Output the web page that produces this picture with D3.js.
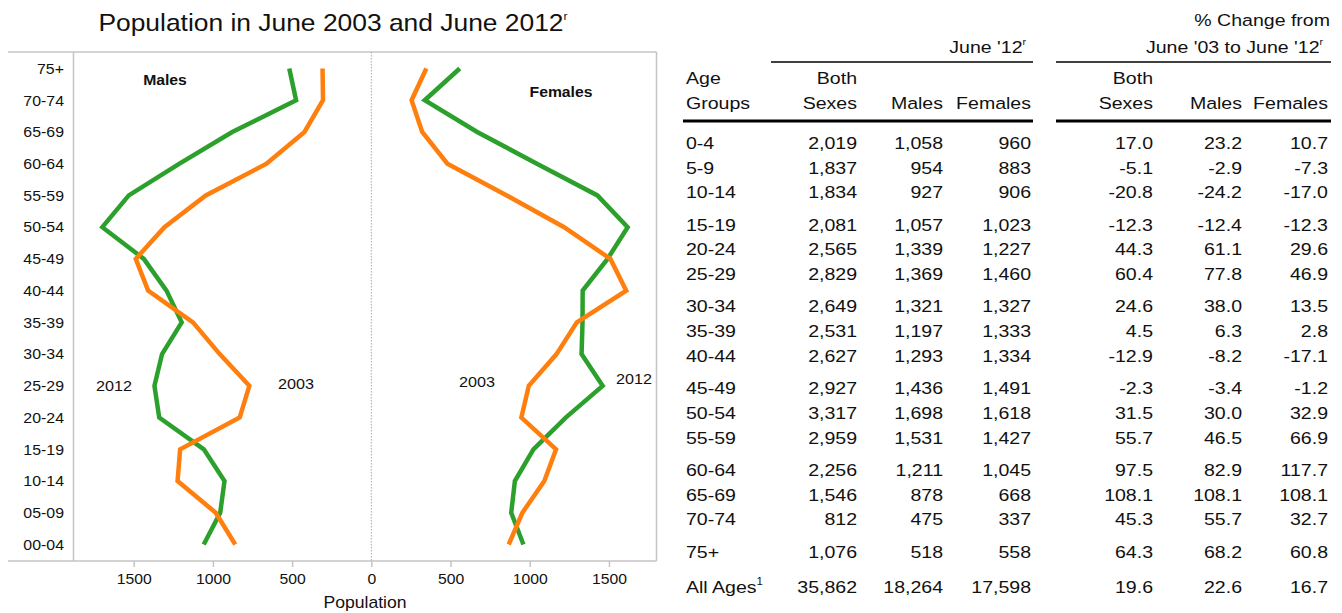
<!DOCTYPE html>
<html>
<head>
<meta charset="utf-8">
<script src="https://cdn.jsdelivr.net/npm/d3@7"></script>
<style>
  body { margin: 0; background: #fff; }
  svg { display: block; font-family: "Liberation Sans", Arial, sans-serif; }
</style>
</head>
<body>
<svg width="1342" height="613"></svg>
<script>
// data
const ageGroups = ["00-04", "05-09", "10-14", "15-19", "20-24", "25-29", "30-34", "35-39",
  "40-44", "45-49", "50-54", "55-59", "60-64", "65-69", "70-74", "75+"];
const males2012 = [1058, 954, 927, 1057, 1339, 1369, 1321, 1197, 1293, 1436, 1698, 1531, 1211, 878, 475, 518];
const males2003 = [859, 982, 1223, 1207, 831, 770, 957, 1126, 1409, 1487, 1306, 1045, 662, 422, 305, 308];
const females2012 = [960, 883, 906, 1023, 1227, 1460, 1327, 1333, 1334, 1491, 1618, 1427, 1045, 668, 337, 558];
const females2003 = [867, 953, 1092, 1166, 947, 994, 1169, 1297, 1609, 1509, 1217, 855, 480, 321, 254, 347];
const xTicks = [-1500, -1000, -500, 0, 500, 1000, 1500];

// table data
const tableAges = ["0-4", "5-9", "10-14", "15-19", "20-24", "25-29", "30-34", "35-39", "40-44",
  "45-49", "50-54", "55-59", "60-64", "65-69", "70-74", "75+", "All Ages"];
const bothSexes = [2019, 1837, 1834, 2081, 2565, 2829, 2649, 2531, 2627, 2927, 3317, 2959, 2256, 1546, 812, 1076, 35862];
const tableMales = [1058, 954, 927, 1057, 1339, 1369, 1321, 1197, 1293, 1436, 1698, 1531, 1211, 878, 475, 518, 18264];
const tableFemales = [960, 883, 906, 1023, 1227, 1460, 1327, 1333, 1334, 1491, 1618, 1427, 1045, 668, 337, 558, 17598];
const pctBoth = [17.0, -5.1, -20.8, -12.3, 44.3, 60.4, 24.6, 4.5, -12.9, -2.3, 31.5, 55.7, 97.5, 108.1, 45.3, 64.3, 19.6];
const pctMales = [23.2, -2.9, -24.2, -12.4, 61.1, 77.8, 38.0, 6.3, -8.2, -3.4, 30.0, 46.5, 82.9, 108.1, 55.7, 68.2, 22.6];
const pctFemales = [10.7, -7.3, -17.0, -12.3, 29.6, 46.9, 13.5, 2.8, -17.1, -1.2, 32.9, 66.9, 117.7, 108.1, 32.7, 60.8, 16.7];

const svg = d3.select("svg");
const green = "#2ca02c", orange = "#ff7f0e", frame = "#c4c4c4";

// text helper (source font is a bit wider than Arial)
function txt(x, y, s, opts) {
  opts = opts || {};
  return svg.append("text")
    .attr("transform", `translate(${x},${y}) scale(${opts.sx || 1.06},1)`)
    .attr("text-anchor", opts.anchor || "start")
    .attr("font-size", opts.size || 15)
    .attr("font-weight", opts.weight || "normal")
    .attr("fill", "#111")
    .text(s);
}

// title
const title = txt(333, 31, "Population in June 2003 and June 2012", {anchor: "middle", size: 24, sx: 1.1});
title.append("tspan").attr("font-size", 11).attr("dy", -11).text("r");

// scales
const x = d3.scaleLinear().domain([-1880, 1800]).range([73.5, 656.5]);
const y = d3.scalePoint().domain(ageGroups).range([561, 52]).padding(0.52);

// frame
svg.append("line").attr("x1", 8).attr("x2", 656.5).attr("y1", 52).attr("y2", 52)
  .attr("stroke", frame).attr("stroke-width", 1.5);
svg.append("line").attr("x1", 656.5).attr("x2", 656.5).attr("y1", 52).attr("y2", 561)
  .attr("stroke", frame).attr("stroke-width", 1.5);
svg.append("line").attr("x1", 73.5).attr("x2", 73.5).attr("y1", 52).attr("y2", 561)
  .attr("stroke", frame).attr("stroke-width", 1.5);
svg.append("line").attr("x1", 8).attr("x2", 656.5).attr("y1", 561).attr("y2", 561)
  .attr("stroke", frame).attr("stroke-width", 1.5);

// zero line
svg.append("line").attr("x1", x(0)).attr("x2", x(0)).attr("y1", 52).attr("y2", 561)
  .attr("stroke", "#aaa").attr("stroke-dasharray", "1.5,1.5");

// x axis
const xAxis = svg.append("g")
  .attr("transform", "translate(0,561)")
  .call(d3.axisBottom(x).tickValues(xTicks).tickFormat(d => Math.abs(d)).tickSize(6));
xAxis.select(".domain").remove();
xAxis.selectAll(".tick line").attr("stroke", frame).attr("stroke-width", 1.5);
xAxis.selectAll(".tick text")
  .attr("y", 12).attr("font-size", 15).attr("font-family", "Liberation Sans, Arial, sans-serif")
  .attr("fill", "#111").attr("transform", "scale(1.05,1)");

txt(365, 608, "Population", {anchor: "middle", size: 16, sx: 1.1});

// y axis labels
const yAxis = svg.append("g")
  .attr("transform", "translate(73.5,0)")
  .call(d3.axisLeft(y).tickSize(0).tickPadding(9));
yAxis.select(".domain").remove();
yAxis.selectAll(".tick text")
  .attr("font-size", 15).attr("font-family", "Liberation Sans, Arial, sans-serif")
  .attr("fill", "#111").attr("transform", "scale(1.06,1)");

// lines
const maleLine = d3.line().x(d => x(-d[1])).y(d => y(d[0]));
const femaleLine = d3.line().x(d => x(d[1])).y(d => y(d[0]));

function drawLine(gen, values, color) {
  svg.append("path")
    .datum(ageGroups.map((a, i) => [a, values[i]]))
    .attr("d", gen)
    .attr("fill", "none")
    .attr("stroke", color)
    .attr("stroke-width", 4.5);
}
drawLine(maleLine, males2012, green);
drawLine(femaleLine, females2012, green);
drawLine(maleLine, males2003, orange);
drawLine(femaleLine, females2003, orange);

// annotations
txt(165, 85, "Males", {anchor: "middle", weight: "bold", sx: 1.05});
txt(561, 97, "Females", {anchor: "middle", weight: "bold", sx: 1.05});
txt(114, 391, "2012", {anchor: "middle", sx: 1.08});
txt(296, 389, "2003", {anchor: "middle", sx: 1.08});
txt(477, 387, "2003", {anchor: "middle", sx: 1.08});
txt(634, 384, "2012", {anchor: "middle", sx: 1.08});

// table
const loc = d3.formatLocale({decimal: ".", thousands: ",", grouping: [3], currency: ["$", ""], minus: "-"});
const fmtN = loc.format(","), fmtP = loc.format(".1f");
const colX = [857, 943, 1031, 1153, 1242, 1328];
const tsx = 1.15, tfs = 17;

// table headers
txt(1330, 26, "% Change from", {anchor: "end", size: tfs, sx: tsx});
txt(1026, 53, "June '12", {anchor: "end", size: tfs, sx: tsx})
  .append("tspan").attr("font-size", 9).attr("dy", -8).text("r");
txt(1323, 53, "June '03 to June '12", {anchor: "end", size: tfs, sx: tsx})
  .append("tspan").attr("font-size", 9).attr("dy", -8).text("r");
svg.append("line").attr("x1", 771).attr("x2", 1033).attr("y1", 62).attr("y2", 62)
  .attr("stroke", "#000").attr("stroke-width", 1.5);
svg.append("line").attr("x1", 1056).attr("x2", 1331).attr("y1", 62).attr("y2", 62)
  .attr("stroke", "#000").attr("stroke-width", 1.5);

txt(686, 84, "Age", {size: tfs, sx: tsx});
txt(686, 109, "Groups", {size: tfs, sx: tsx});
[["Both", "Sexes"], ["", "Males"], ["", "Females"], ["Both", "Sexes"], ["", "Males"], ["", "Females"]]
  .forEach((h, i) => {
    if (h[0]) txt(colX[i], 84, h[0], {anchor: "end", size: tfs, sx: tsx});
    txt(colX[i], 109, h[1], {anchor: "end", size: tfs, sx: tsx});
  });
svg.append("line").attr("x1", 683).attr("x2", 1033).attr("y1", 121).attr("y2", 121)
  .attr("stroke", "#000").attr("stroke-width", 3);
svg.append("line").attr("x1", 1056).attr("x2", 1331).attr("y1", 121).attr("y2", 121)
  .attr("stroke", "#000").attr("stroke-width", 3);

// table rows
tableAges.forEach((a, i) => {
  const g = i < 15 ? Math.floor(i / 3) : i - 10;
  const ry = 143 + i * 24.7 + g * 7.6 + (i === 16 ? 3 : 0) + 6;
  const lab = txt(686, ry, a, {size: tfs, sx: tsx});
  if (a === "All Ages") lab.append("tspan").attr("font-size", 10).attr("dy", -8).text("1");
  const vals = [fmtN(bothSexes[i]), fmtN(tableMales[i]), fmtN(tableFemales[i]),
    fmtP(pctBoth[i]), fmtP(pctMales[i]), fmtP(pctFemales[i])];
  vals.forEach((v, j) => txt(colX[j], ry, v, {anchor: "end", size: tfs, sx: tsx}));
});
</script>
</body>
</html>
